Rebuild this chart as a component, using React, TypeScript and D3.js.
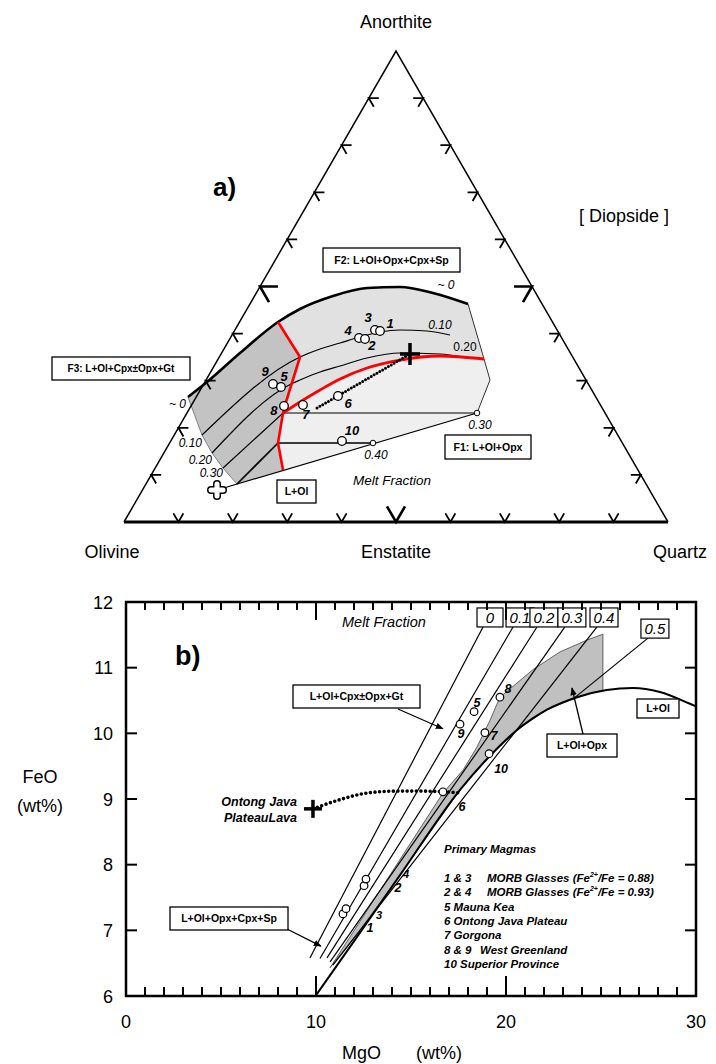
import React from "react";
import * as d3 from "d3";

type P = [number, number];
const FONT = "'Liberation Sans', Arial, Helvetica, sans-serif";

// ================= Panel a: Ol–Qz–An projection (coords: [u, v] = fraction of base width, fraction of height) =================
const vertexLabels = ["Olivine", "Enstatite", "Quartz", "Anorthite"];
const tickFractions = [0.1, 0.2, 0.3, 0.4, 0.5, 0.6, 0.7, 0.8, 0.9];

const aNearZero: P[] = [[0.1176, 0.2654], [0.1526, 0.2972], [0.2132, 0.3588], [0.2831, 0.4246], [0.3235, 0.4522], [0.3842, 0.4798], [0.4467, 0.4968], [0.5074, 0.4989], [0.568, 0.4862], [0.6324, 0.4628]];
const aRightEdge: P[] = [[0.6324, 0.4628], [0.6618, 0.3461], [0.6728, 0.3015], [0.6489, 0.2314]];
const aBottomEdge: P[] = [[0.6489, 0.2314], [0.2077, 0.0807]];
const aLeftEdge: P[] = [[0.2077, 0.0807], [0.182, 0.1146], [0.1618, 0.1465], [0.1434, 0.1847], [0.1176, 0.2654]];
const aRed1: P[] = [[0.2831, 0.4246], [0.3235, 0.3503], [0.296, 0.2484], [0.2923, 0.2314], [0.2831, 0.1677], [0.2923, 0.1104]];
const aRed2: P[] = [[0.2923, 0.2314], [0.3235, 0.2548], [0.3603, 0.2803], [0.3971, 0.3036], [0.4467, 0.327], [0.5074, 0.3439], [0.5809, 0.3524], [0.6618, 0.3461]];
const aC010: P[] = [[0.1434, 0.1847], [0.3235, 0.3503], [0.3603, 0.3673], [0.3971, 0.38], [0.4338, 0.3928], [0.4706, 0.4034], [0.5074, 0.4076], [0.557, 0.4055], [0.5993, 0.397]];
const aC020: P[] = [[0.1618, 0.1465], [0.307, 0.293], [0.3235, 0.3015], [0.3603, 0.3185], [0.3971, 0.3312], [0.4467, 0.3482], [0.5074, 0.3588], [0.5809, 0.3567], [0.6232, 0.3503]];
const aC030: P[] = [[0.182, 0.1146], [0.2923, 0.2314], [0.6489, 0.2314]];
const aC040: P[] = [[0.2077, 0.0807], [0.2831, 0.1677], [0.4577, 0.1677]];
const aOjpPath: P[] = [[0.3548, 0.242], [0.5257, 0.3567]];
const aCross: P = [0.5257, 0.3567];
const aFlower: P = [0.171, 0.0679];
const aPointIds = ["3", "1", "4", "2", "9", "5", "8", "7", "6", "10"];
const aPoints: P[] = [[0.4614, 0.4076], [0.4706, 0.4055], [0.432, 0.3907], [0.443, 0.3885], [0.2739, 0.293], [0.2886, 0.2866], [0.2941, 0.2463], [0.329, 0.2484], [0.3934, 0.2675], [0.4007, 0.172]];
const aLabelOffsets: P[] = [[-7, -13], [10, -8], [-11, -7], [7, 6], [-8, -12], [3, -11], [-10, 5], [3, 9], [10, 7], [10, -10]];
const aSmallIds = ["0.40", "0.30"];
const aSmallPts: P[] = [[0.4577, 0.1677], [0.6489, 0.2314]];

// ================= Panel b: FeO vs MgO =================
const xTickLabels = [0, 10, 20, 30];
const yTickLabels = [6, 7, 8, 9, 10, 11, 12];
const meltLabels = ["0", "0.1", "0.2", "0.3", "0.4", "0.5"];
const meltTop: P[] = [[18.79, 11.62], [20.37, 11.62], [21.63, 11.62], [23.1, 11.62], [24.79, 11.62], [27.47, 11.45]];
const meltBottom: P[] = [[9.68, 6.58], [10.21, 6.57], [10.58, 6.58], [10.74, 6.52], [10.89, 6.47], [23.47, 10.51]];
const olCurve: P[] = [[9.95, 5.99], [12.16, 6.9], [14.42, 7.84], [17.58, 9.14], [19.1, 9.64], [20.58, 10.05], [22.16, 10.36], [23.74, 10.55], [25.3, 10.66], [26.68, 10.69], [28.1, 10.63], [29.68, 10.45], [30, 10.41]];
const opxField: P[] = [[10.74, 6.43], [16.68, 9.09], [17.74, 9.44], [18.47, 9.79], [19.16, 10.2], [19.68, 10.55], [20.47, 10.74], [21.42, 10.97], [22.84, 11.24], [24.26, 11.42], [25.1, 11.51], [25.1, 10.66], [23.74, 10.55], [22.16, 10.36], [20.58, 10.05], [19.1, 9.64], [17.58, 9.14], [14.42, 7.84], [12.3, 7.0], [10.74, 6.43]];
const ojpPath: P[] = [[9.84, 8.85], [11.26, 8.99], [12.68, 9.09], [14.26, 9.12], [15.63, 9.12], [16.68, 9.11], [17.68, 9.09]];
const ojpLava: P = [9.84, 8.85];
const bPointIds = ["1", "3", "2", "4", "5", "9", "8", "7", "10", "6"];
const bPoints: P[] = [[11.42, 7.25], [11.58, 7.33], [12.53, 7.68], [12.63, 7.78], [18.32, 10.33], [17.58, 10.14], [19.68, 10.55], [18.89, 10.01], [19.11, 9.69], [16.68, 9.11]];
const bLabelOffsets: P[] = [[27, 14], [33, 6], [34, 2], [40, -6], [3, -9], [1, 9], [8, -9], [9, 3], [12, 15], [19, 15]];
const bLabelSuper = [false, true, false, true, false, false, false, false, false, false];
const legendTitle = "Primary Magmas";
const legendKeys = ["1 & 3", "2 & 4", "5 Mauna Kea", "6 Ontong Java Plateau", "7 Gorgona", "8 & 9", "10 Superior Province"];
const legendDesc = ["MORB Glasses (Fe", "MORB Glasses (Fe", "", "", "", "West Greenland", ""];
const legendRatio = ["0.88", "0.93", "", "", "", "", ""];
const arrowTips: P[] = [[16.68, 10.07], [10.26, 6.76], [23.47, 10.69]];

// scales
const tx = d3.scaleLinear().domain([0, 1]).range([124, 668]);
const ty = d3.scaleLinear().domain([0, 1]).range([522, 51]);
const xb = d3.scaleLinear().domain([0, 30]).range([126, 696]);
const yb = d3.scaleLinear().domain([6, 12]).range([996, 602]);

const aLin = d3.line<P>().x((d) => tx(d[0])).y((d) => ty(d[1]));
const aMono = d3.line<P>().x((d) => tx(d[0])).y((d) => ty(d[1])).curve(d3.curveMonotoneX);
const bLin = d3.line<P>().x((d) => xb(d[0])).y((d) => yb(d[1]));
const bMono = d3.line<P>().x((d) => xb(d[0])).y((d) => yb(d[1])).curve(d3.curveMonotoneX);

function ternaryTicks() {
  const O = [tx(0), ty(0)], Q = [tx(1), ty(0)], A = [tx(0.5), ty(1)];
  const c = 0.5, s = Math.sqrt(3) / 2;
  const out: { d: string; major: boolean }[] = [];
  tickFractions.forEach((t) => {
    const major = Math.abs(t - 0.5) < 1e-9;
    const L = major ? 18 : 10;
    let p = [O[0] + t * (Q[0] - O[0]), O[1]];
    out.push({ d: `M${p[0] - c * L},${p[1] - s * L}L${p[0]},${p[1]}L${p[0] + c * L},${p[1] - s * L}`, major });
    p = [O[0] + t * (A[0] - O[0]), O[1] + t * (A[1] - O[1])];
    out.push({ d: `M${p[0] + L},${p[1]}L${p[0]},${p[1]}L${p[0] + c * L},${p[1] + s * L}`, major });
    p = [Q[0] + t * (A[0] - Q[0]), Q[1] + t * (A[1] - Q[1])];
    out.push({ d: `M${p[0] - L},${p[1]}L${p[0]},${p[1]}L${p[0] - c * L},${p[1] + s * L}`, major });
  });
  return out;
}

const Box = ({ x, y, w, h, text, size = 10.5 }: any) => (
  <g>
    <rect x={x} y={y} width={w} height={h} fill="#fff" stroke="#000" strokeWidth={1.3} />
    <text x={x + w / 2} y={y + h / 2 + size * 0.36} textAnchor="middle" fontSize={size} fontWeight={700}>{text}</text>
  </g>
);

export default function App() {
  const tri = [[0, 0], [1, 0], [0.5, 1]] as P[];
  const F1 = [...aNearZero, ...aRightEdge.slice(1), ...aBottomEdge.slice(1), ...aLeftEdge.slice(1)];
  const F2 = [...aNearZero.slice(3), aRightEdge[1], ...[...aRed2].reverse().slice(1), aRed1[2], aRed1[1]];
  const F3 = [...aNearZero.slice(0, 4), ...aRed1.slice(1), aBottomEdge[1], ...aLeftEdge.slice(1)];
  const ticks = ternaryTicks();
  const cx = tx(aCross[0]), cy = ty(aCross[1]);
  const fx = tx(aFlower[0]), fy = ty(aFlower[1]);
  const lx = xb(ojpLava[0]), ly = yb(ojpLava[1]);

  return (
    <svg width={716} height={1064} style={{ position: "absolute", left: 0, top: 0, background: "#fff" }} fontFamily={FONT}>
      <defs>
        <marker id="arr" viewBox="0 0 10 10" refX="9" refY="5" markerWidth="8" markerHeight="8" markerUnits="userSpaceOnUse" orient="auto">
          <path d="M0,1L10,5L0,9z" fill="#000" />
        </marker>
      </defs>
      <rect width={716} height={1064} fill="#fff" />

      {/* ===== Panel a ===== */}
      <path d={aLin([...F1, F1[0]])!} fill="#efefef" stroke="none" />
      <path d={aLin([...F2, F2[0]])!} fill="#e1e1e1" stroke="none" />
      <path d={aLin([...F3, F3[0]])!} fill="#c3c3c3" stroke="none" />
      <path d={aLin(aLeftEdge)!} fill="none" stroke="#808080" strokeWidth={1} />
      <path d={aLin(aRightEdge)!} fill="none" stroke="#333" strokeWidth={1} />
      <path d={aLin([aBottomEdge[0], aFlower])!} fill="none" stroke="#000" strokeWidth={1.2} />
      <path d={aMono(aC010)!} fill="none" stroke="#000" strokeWidth={1.2} />
      <path d={aMono(aC020)!} fill="none" stroke="#000" strokeWidth={1.2} />
      <path d={aLin(aC030)!} fill="none" stroke="#000" strokeWidth={1.2} />
      <path d={aLin(aC040)!} fill="none" stroke="#000" strokeWidth={1.6} />
      <path d={aMono(aNearZero)!} fill="none" stroke="#000" strokeWidth={2.6} />
      <path d={aLin(aRed1)!} fill="none" stroke="#ff0000" strokeWidth={2.6} strokeLinejoin="round" />
      <path d={aMono(aRed2)!} fill="none" stroke="#ff0000" strokeWidth={2.8} />
      <path d={aLin(aOjpPath)!} fill="none" stroke="#000" strokeWidth={3} strokeDasharray="0 3.3" strokeLinecap="round" />
      <g stroke="#000" strokeWidth={3.5}>
        <line x1={cx - 10} x2={cx + 10} y1={cy} y2={cy} />
        <line x1={cx} x2={cx} y1={cy - 11} y2={cy + 11} />
      </g>
      <g strokeLinecap="round">
        <line x1={fx - 6} x2={fx + 6} y1={fy} y2={fy} stroke="#000" strokeWidth={8} />
        <line x1={fx} x2={fx} y1={fy - 6} y2={fy + 6} stroke="#000" strokeWidth={8} />
        <line x1={fx - 6} x2={fx + 6} y1={fy} y2={fy} stroke="#fff" strokeWidth={5} />
        <line x1={fx} x2={fx} y1={fy - 6} y2={fy + 6} stroke="#fff" strokeWidth={5} />
      </g>
      {aPoints.map((p, i) => (
        <circle key={"ap" + i} cx={tx(p[0])} cy={ty(p[1])} r={4.3} fill="#fff" stroke="#000" strokeWidth={1.3} />
      ))}
      {aPoints.map((p, i) => (
        <text key={"al" + i} x={tx(p[0]) + aLabelOffsets[i][0]} y={ty(p[1]) + aLabelOffsets[i][1] + 4.5} textAnchor="middle" fontSize={13} fontWeight={700} fontStyle="italic">{aPointIds[i]}</text>
      ))}
      {aSmallPts.map((p, i) => (
        <g key={"as" + i}>
          <circle cx={tx(p[0])} cy={ty(p[1])} r={2.8} fill="#fff" stroke="#000" strokeWidth={1} />
          <text x={tx(p[0]) + 3} y={ty(p[1]) + 16} textAnchor="middle" fontSize={12} fontStyle="italic">{aSmallIds[i]}</text>
        </g>
      ))}
      <g fontSize={12} fontStyle="italic">
        <text x={446} y={289} textAnchor="middle">~ 0</text>
        <text x={440} y={329} textAnchor="middle">0.10</text>
        <text x={465} y={351} textAnchor="middle" fontStyle="normal">0.20</text>
        <text x={186} y={408} textAnchor="end">~ 0</text>
        <text x={202} y={447} textAnchor="end">0.10</text>
        <text x={212} y={464} textAnchor="end">0.20</text>
        <text x={223} y={477} textAnchor="end">0.30</text>
      </g>
      <text x={353} y={485} fontSize={13.5} fontStyle="italic">Melt Fraction</text>

      {/* triangle */}
      <path d={aLin([tri[0], tri[2], tri[1]])!} fill="none" stroke="#000" strokeWidth={1.5} />
      <line x1={tx(0)} x2={tx(1)} y1={ty(0)} y2={ty(0)} stroke="#000" strokeWidth={3} />
      {ticks.map((t, i) => (
        <path key={"tk" + i} d={t.d} fill="none" stroke="#000" strokeWidth={t.major ? 2.6 : 1.8} />
      ))}
      <g fontSize={18}>
        <text x={tx(0) - 12} y={558} textAnchor="middle">{vertexLabels[0]}</text>
        <text x={tx(0.5)} y={558} textAnchor="middle">{vertexLabels[1]}</text>
        <text x={tx(1) + 12} y={558} textAnchor="middle">{vertexLabels[2]}</text>
        <text x={tx(0.5)} y={28} textAnchor="middle">{vertexLabels[3]}</text>
        <text x={624} y={222} textAnchor="middle">[ Diopside ]</text>
      </g>
      <text x={213} y={196} fontSize={26} fontWeight={700}>a)</text>
      <Box x={323} y={248} w={137} h={24} text="F2: L+Ol+Opx+Cpx+Sp" />
      <Box x={52} y={357} w={138} h={23} text="F3: L+Ol+Cpx±Opx+Gt" size={10} />
      <Box x={445} y={435} w={86} h={24} text="F1: L+Ol+Opx" />
      <Box x={277} y={480} w={39} h={23} text="L+Ol" />

      {/* ===== Panel b ===== */}
      <path d={bLin(opxField)!} fill="#c0c0c0" stroke="#444" strokeWidth={0.8} />
      {meltLabels.map((lab, i) => (
        <line key={"ml" + i} x1={xb(meltTop[i][0])} y1={yb(meltTop[i][1])} x2={xb(meltBottom[i][0])} y2={yb(meltBottom[i][1])} stroke="#000" strokeWidth={1.2} />
      ))}
      <path d={bMono(olCurve)!} fill="none" stroke="#000" strokeWidth={2} />
      <path d={bMono(ojpPath)!} fill="none" stroke="#000" strokeWidth={3.6} strokeDasharray="0 4.6" strokeLinecap="round" />
      <g stroke="#000" strokeWidth={3.5}>
        <line x1={lx - 9} x2={lx + 9} y1={ly} y2={ly} />
        <line x1={lx} x2={lx} y1={ly - 9} y2={ly + 9} />
      </g>
      {bPoints.map((p, i) => (
        <circle key={"bp" + i} cx={xb(p[0])} cy={yb(p[1])} r={3.8} fill="#fff" stroke="#000" strokeWidth={1.2} />
      ))}
      {bPoints.map((p, i) => (
        <text key={"bl" + i} x={xb(p[0]) + bLabelOffsets[i][0]} y={yb(p[1]) + bLabelOffsets[i][1] + 4.5} textAnchor="middle" fontSize={bLabelSuper[i] ? 11 : 12.5} fontWeight={700} fontStyle="italic">{bPointIds[i]}</text>
      ))}
      {meltLabels.map((lab, i) => {
        const w = lab === "0" ? 26 : 28;
        const cxm = xb(meltTop[i][0]) + 7;
        const top = yb(meltTop[i][1]) - 19;
        return (
          <g key={"mb" + i}>
            <rect x={cxm - w / 2} y={top} width={w} height={19} fill="#fff" stroke="#000" strokeWidth={1.2} />
            <text x={cxm} y={top + 15} textAnchor="middle" fontSize={15} fontStyle="italic">{lab}</text>
          </g>
        );
      })}
      <rect x={xb(0)} y={yb(12)} width={xb(30) - xb(0)} height={yb(6) - yb(12)} fill="none" stroke="#000" strokeWidth={2.5} />
      {d3.range(1, 30).map((v) => {
        const major = v % 10 === 0;
        return (
          <g key={"xt" + v} stroke="#000" strokeWidth={2}>
            <line x1={xb(v)} x2={xb(v)} y1={yb(12)} y2={yb(12) + (major ? 18 : 8)} />
            <line x1={xb(v)} x2={xb(v)} y1={yb(6)} y2={yb(6) - (major ? 20 : 9)} />
          </g>
        );
      })}
      {d3.range(7, 12).map((v) => (
        <g key={"yt" + v} stroke="#000" strokeWidth={2}>
          <line x1={xb(0)} x2={xb(0) + 11} y1={yb(v)} y2={yb(v)} />
          <line x1={xb(30)} x2={xb(30) - 11} y1={yb(v)} y2={yb(v)} />
        </g>
      ))}
      <g fontSize={18}>
        {xTickLabels.map((v) => (
          <text key={"xl" + v} x={xb(v)} y={1028} textAnchor="middle">{v}</text>
        ))}
        {yTickLabels.map((v) => (
          <text key={"yl" + v} x={113} y={yb(v) + 6.5} textAnchor="end">{v}</text>
        ))}
        <text x={342} y={1059}>MgO</text>
        <text x={416} y={1059}>(wt%)</text>
        <text x={40} y={783} textAnchor="middle">FeO</text>
        <text x={40} y={812} textAnchor="middle">(wt%)</text>
      </g>
      <text x={342} y={627} fontSize={14.5} fontStyle="italic">Melt Fraction</text>
      <text x={175} y={665} fontSize={27} fontWeight={700}>b)</text>
      <g fontSize={12.5} fontWeight={700} fontStyle="italic" textAnchor="end">
        <text x={297} y={806}>Ontong Java</text>
        <text x={297} y={822}>PlateauLava</text>
      </g>
      <line x1={398} y1={709} x2={xb(arrowTips[0][0])} y2={yb(arrowTips[0][1])} stroke="#000" strokeWidth={1.3} markerEnd="url(#arr)" />
      <line x1={287} y1={929} x2={xb(arrowTips[1][0])} y2={yb(arrowTips[1][1])} stroke="#000" strokeWidth={1.3} markerEnd="url(#arr)" />
      <line x1={583} y1={734} x2={xb(arrowTips[2][0])} y2={yb(arrowTips[2][1])} stroke="#000" strokeWidth={1.3} markerEnd="url(#arr)" />
      <Box x={293} y={685} w={127} h={23} text="L+Ol+Cpx±Opx+Gt" size={10.5} />
      <Box x={170} y={907} w={118} h={23} text="L+Ol+Opx+Cpx+Sp" size={10.5} />
      <Box x={547} y={734} w={70} h={23} text="L+Ol+Opx" size={10.5} />
      <Box x={637} y={699} w={42} h={19} text="L+Ol" size={10.5} />
      <g fontSize={11.5} fontWeight={700} fontStyle="italic">
        <text x={444} y={853}>{legendTitle}</text>
        {legendKeys.map((k, i) => {
          const y = 882 + i * 14.3;
          return (
            <text key={"lg" + i} y={y}>
              <tspan x={444}>{k}</tspan>
              {legendDesc[i] && <tspan x={i === 5 ? 480 : 487}>{legendDesc[i]}</tspan>}
              {legendRatio[i] && <tspan fontSize={7} dy={-5}>2+</tspan>}
              {legendRatio[i] && <tspan dy={5}>{`/Fe = ${legendRatio[i]})`}</tspan>}
            </text>
          );
        })}
      </g>
    </svg>
  );
}
